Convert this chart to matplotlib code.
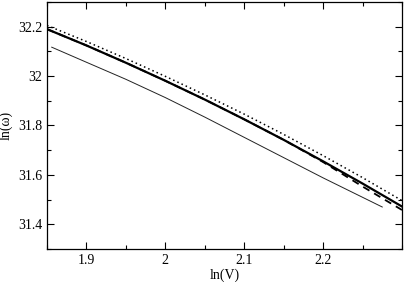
import numpy as np
import matplotlib
matplotlib.use("Agg")
import matplotlib.pyplot as plt
from matplotlib.ticker import MultipleLocator

plt.rcParams['font.family'] = ['Liberation Serif', 'DejaVu Serif']

# ln(V) values and the ln(omega) curves
lnv = [1.85, 1.90, 1.95, 2.00, 2.05, 2.10, 2.15, 2.20, 2.25, 2.30]
thick = [32.19, 32.124, 32.054, 31.981, 31.905, 31.825, 31.742, 31.655, 31.565, 31.472]
dotted = [32.205, 32.14, 32.071, 31.999, 31.924, 31.846, 31.764, 31.678, 31.589, 31.496]
dashed = [32.19, 32.124, 32.054, 31.981, 31.905, 31.825, 31.742, 31.652, 31.553, 31.458]

lnv_thin = [1.856, 1.90, 1.95, 2.00, 2.05, 2.10, 2.15, 2.20, 2.275]
thin = [32.117, 32.056, 31.987, 31.913, 31.834, 31.752, 31.67, 31.588, 31.47]

fig = plt.figure(figsize=(4.04, 2.82), dpi=100)
ax = fig.add_axes([0.1163, 0.117, 0.995 - 0.1163, 0.993 - 0.117])

ax.plot(lnv, dashed, color="black", lw=1.3, ls=(0, (4, 3)))
ax.plot(lnv, thick, color="black", lw=1.6)
ax.plot(lnv, dotted, color="black", lw=1.1, ls=(0, (1, 2)))
ax.plot(lnv_thin, thin, color="#222222", lw=0.7)

ax.set_xlim(1.85, 2.3)
ax.set_ylim(31.3, 32.3)
ax.xaxis.set_major_locator(MultipleLocator(0.1))
ax.xaxis.set_minor_locator(MultipleLocator(0.05))
ax.yaxis.set_major_locator(MultipleLocator(0.2))
ax.yaxis.set_minor_locator(MultipleLocator(0.1))
ax.set_xticks([1.9, 2.0, 2.1, 2.2])
ax.set_xticklabels(["1.9", "2", "2.1", "2.2"])
ax.set_yticks([31.4, 31.6, 31.8, 32.0, 32.2])
ax.set_yticklabels(["31.4", "31.6", "31.8", "32", "32.2"])

ax.tick_params(which="both", direction="in", top=True, right=True, labelsize=10, width=0.8)
ax.tick_params(which="major", length=5)
ax.tick_params(which="minor", length=3)
for s in ax.spines.values():
    s.set_linewidth(0.9)

ax.set_xlabel("ln(V)", fontsize=10, labelpad=1)
ax.set_ylabel("ln(ω)", fontsize=10, labelpad=4)

fig.savefig("out.png", dpi=100)
